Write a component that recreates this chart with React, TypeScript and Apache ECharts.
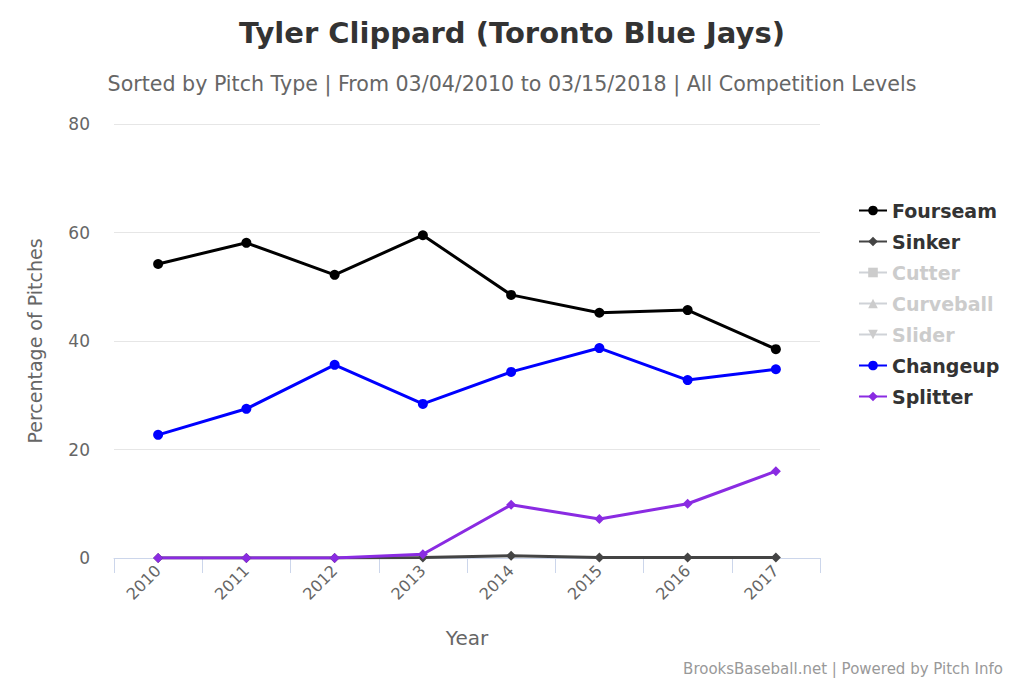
import React, { useEffect, useRef } from "react";
import * as echarts from "echarts";

const years = ["2010", "2011", "2012", "2013", "2014", "2015", "2016", "2017"];
const fourseam = [54.2, 58.1, 52.2, 59.5, 48.5, 45.2, 45.7, 38.5];
const sinker = [0, 0, 0, 0.1, 0.4, 0.1, 0.1, 0.1];
const cutter: (number | null)[] = [];
const curveball: (number | null)[] = [];
const slider: (number | null)[] = [];
const changeup = [22.7, 27.5, 35.6, 28.4, 34.3, 38.7, 32.8, 34.8];
const splitter = [0, 0, 0, 0.7, 9.8, 7.2, 10.0, 16.0];
const yTicks = { min: 0, max: 80, interval: 20 };

const FONT = "DejaVu Sans";

export default function App() {
  const ref = useRef<HTMLDivElement>(null);
  useEffect(() => {
    if (!ref.current) return;
    const chart = echarts.init(ref.current, null, { renderer: "svg" });
    const mk = (name: string, data: any[], color: string, symbol: string, size = 9) => ({
      name,
      type: "line",
      data,
      color,
      symbol,
      symbolSize: size,
      showSymbol: true,
      lineStyle: { width: 3, color },
      itemStyle: { color },
      emphasis: { disabled: true },
      z: 2,
    });
    chart.setOption({
      animation: false,
      backgroundColor: "#ffffff",
      title: [
        {
          text: "Tyler Clippard (Toronto Blue Jays)",
          left: "center",
          top: 13,
          textStyle: { fontFamily: FONT, fontSize: 29, fontWeight: "bold", color: "#333333" },
        },
        {
          text: "Sorted by Pitch Type | From 03/04/2010 to 03/15/2018 | All Competition Levels",
          left: "center",
          top: 68,
          textStyle: { fontFamily: FONT, fontSize: 20.6, fontWeight: "normal", color: "#666666" },
        },
        {
          text: "BrooksBaseball.net | Powered by Pitch Info",
          right: 16,
          top: 656,
          textStyle: { fontFamily: FONT, fontSize: 15, fontWeight: "normal", color: "#999999" },
        },
      ],
      legend: {
        orient: "vertical",
        left: 853,
        top: 196,
        itemGap: 12,
        itemWidth: 28,
        itemHeight: 12,
        textStyle: { fontFamily: FONT, fontSize: 19, fontWeight: "bold", color: "#333333" },
        inactiveColor: "#cccccc",
        selected: { Cutter: false, Curveball: false, Slider: false },
        data: ["Fourseam", "Sinker", "Cutter", "Curveball", "Slider", "Changeup", "Splitter"],
      },
      grid: { left: 114, right: 204, top: 124, bottom: 125, containLabel: false },
      xAxis: {
        type: "category",
        data: years,
        boundaryGap: true,
        name: "Year",
        nameLocation: "middle",
        nameGap: 70,
        nameTextStyle: { fontFamily: FONT, fontSize: 20, color: "#666666" },
        axisLine: { show: true, lineStyle: { color: "#ccd6eb", width: 1 } },
        axisTick: { show: true, length: 15, alignWithLabel: false, lineStyle: { color: "#ccd6eb" } },
        axisLabel: {
          rotate: 45,
          margin: 10,
          fontFamily: FONT,
          fontSize: 16,
          color: "#666666",
        },
        splitLine: { show: false },
      },
      yAxis: {
        type: "value",
        min: yTicks.min,
        max: yTicks.max,
        interval: yTicks.interval,
        name: "Percentage of Pitches",
        nameLocation: "middle",
        nameGap: 70,
        nameRotate: 90,
        nameTextStyle: { fontFamily: FONT, fontSize: 19, color: "#666666" },
        axisLine: { show: false },
        axisTick: { show: false },
        axisLabel: { fontFamily: FONT, fontSize: 17, color: "#666666", margin: 24 },
        splitLine: { show: true, lineStyle: { color: "#e6e6e6", width: 1 } },
      },
      series: [
        mk("Fourseam", fourseam, "#000000", "circle", 10),
        mk("Sinker", sinker, "#444444", "diamond", 10),
        mk("Cutter", cutter, "#cccccc", "rect", 8),
        mk("Curveball", curveball, "#cccccc", "triangle", 9),
        mk("Slider", slider, "#cccccc", "path://M0,0 L10,0 L5,10 Z", 9),
        mk("Changeup", changeup, "#0000ff", "circle", 10),
        mk("Splitter", splitter, "#8a2be2", "diamond", 10),
      ],
    });
    return () => chart.dispose();
  }, []);
  return (
    <div
      ref={ref}
      style={{ position: "absolute", left: 0, top: 0, width: 1024, height: 683 }}
    />
  );
}
